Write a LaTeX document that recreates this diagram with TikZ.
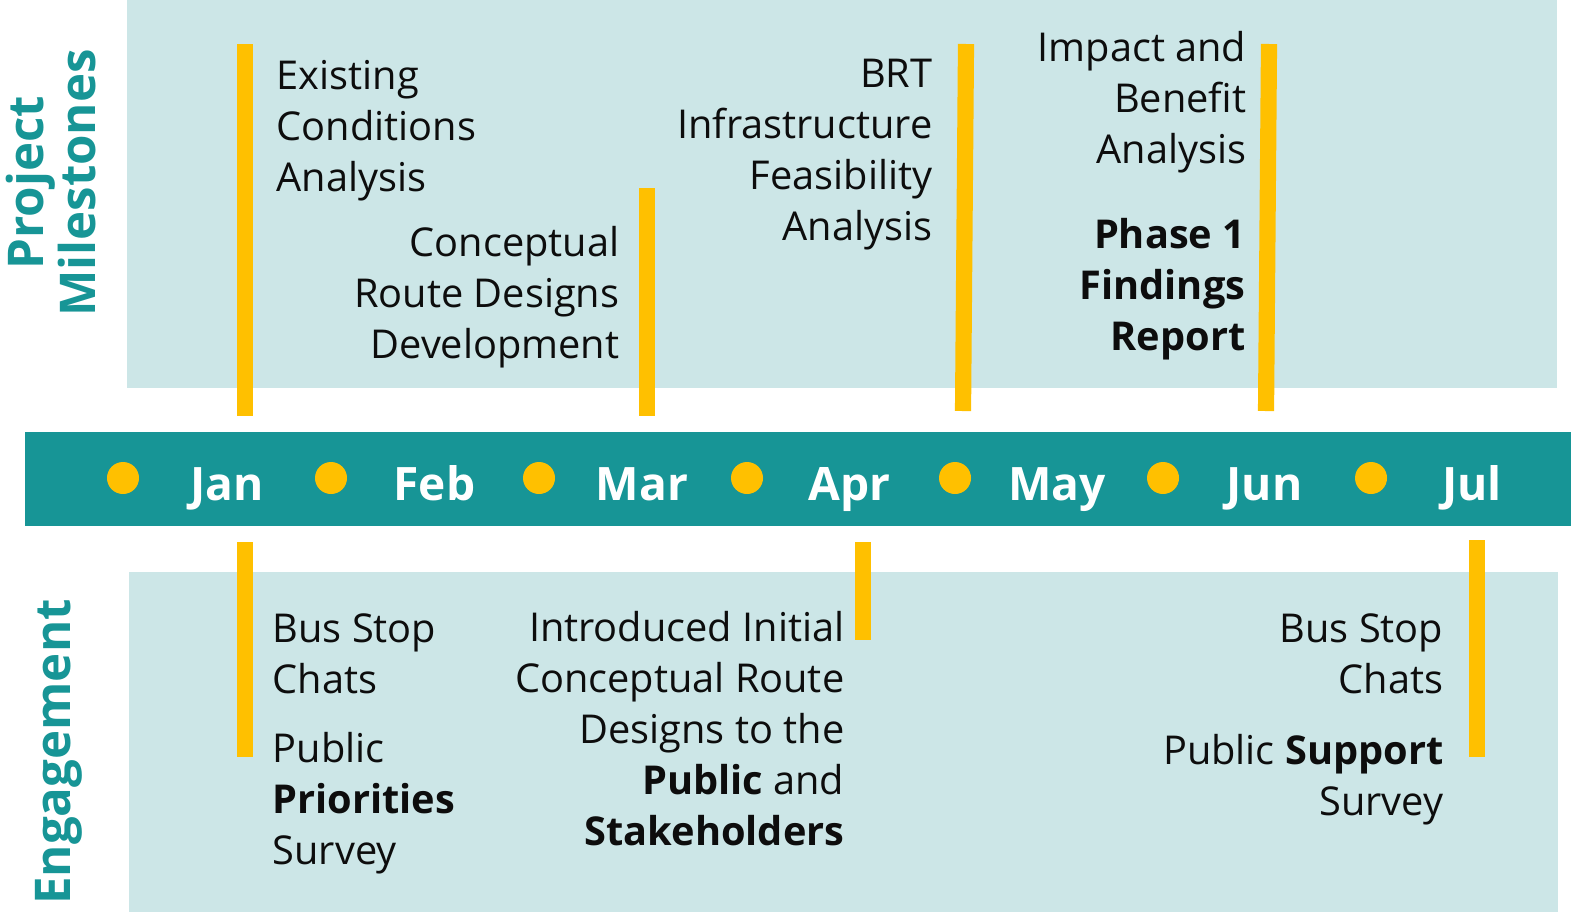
\documentclass[tikz,border=0pt]{standalone}
\usepackage{fontspec}
\setmainfont{Open Sans}
\usepackage{tikz}
\usetikzlibrary{positioning}
\usepackage{xcolor}
\definecolor{bandcol}{RGB}{23,149,150}
\definecolor{panelcol}{RGB}{204,230,231}
\definecolor{barcol}{RGB}{255,192,0}
\definecolor{inkcol}{RGB}{13,13,13}
\tikzset{
  % light background panel
  panel/.style={fill=panelcol, draw=none},
  % yellow milestone bar
  milebar/.style={draw=barcol, line width=4.6pt},
  % yellow dot on the month band
  monthdot/.style={circle, fill=barcol, draw=none, inner sep=0pt, minimum size=0.32cm},
  % month name on the band
  monthlbl/.style={anchor=base, text=white, inner sep=0pt, font=\fontsize{13.1}{15}\selectfont\bfseries},
  % milestone / engagement note, left or right aligned (base = last line)
  note/.style={inner sep=0pt, text=inkcol, align=#1, font=\fontsize{11.3}{14.5}\selectfont},
  note/.default={left},
  % rotated side title
  sidetitle/.style={rotate=90, inner sep=0pt, text=bandcol, align=center, font=\fontsize{14}{14.8}\selectfont\bfseries},
}

\begin{document}
\begin{tikzpicture}[x=0.01cm, y=-0.01cm]
  \useasboundingbox (0,0) rectangle (1571,912);

  % panels and month band
  \fill[panel] (127,0) rectangle (1557,388);
  \fill[panel] (129,572) rectangle (1558,912);
  \fill[bandcol] (25,432) rectangle (1571,526);

  % side titles
  \node[sidetitle] (tproj) at (51,183) {Project\\Milestones};
  \node[sidetitle, anchor=base] (teng) at (70,752) {Engagement};

  % dots and months
  \foreach \m [count=\i from 0] in {Jan,Feb,Mar,Apr,May,Jun,Jul} {
    \node[monthdot] (dot\i) at ({123+208*\i},478) {};
    \node[monthlbl] (mon\i) at ({227+207.5*\i},500) {\m};
  }

  % milestone bars
  \draw[milebar] (245,44) -- (245,416);
  \draw[milebar] (647,188) -- (647,416);
  \draw[milebar] (966,44) -- (963,411);
  \draw[milebar] (1269,44) -- (1266,411);

  % engagement bars
  \draw[milebar] (245,542) -- (245,757);
  \draw[milebar] (863,542) -- (863,640);
  \draw[milebar] (1477,540) -- (1477,757);

  % milestones
  \node[note, anchor=base west] (exist) at (276,191) {Existing\\Conditions\\Analysis};
  \node[note=right, anchor=base east] (concept) at (620,358) {Conceptual\\Route Designs\\Development};
  \node[note=right, anchor=base east] (brt) at (933,240) {BRT\\Infrastructure\\Feasibility\\Analysis};
  \node[note=right, anchor=base east] (impact) at (1247,163) {Impact and\\Benefit\\Analysis};
  \node[note=right, anchor=base east, font=\fontsize{11.3}{14.5}\selectfont\bfseries] (phase) at (1246,350) {Phase 1\\Findings\\Report};

  % engagement
  \node[note, anchor=base west] (chats1) at (272,693) {Bus Stop\\Chats};
  \node[note, anchor=base west] (survey1) at (272,864) {Public\\\textbf{Priorities}\\Survey};
  \node[note=right, anchor=base east] (intro) at (845,845) {Introduced Initial\\Conceptual Route\\Designs to the\\\textbf{Public} and\\\textbf{Stakeholders}};
  \node[note=right, anchor=base east] (chats2) at (1444,693) {Bus Stop\\Chats};
  \node[note=right, anchor=base east] (survey2) at (1444,815) {Public \textbf{Support}\\Survey};
\end{tikzpicture}
\end{document}
